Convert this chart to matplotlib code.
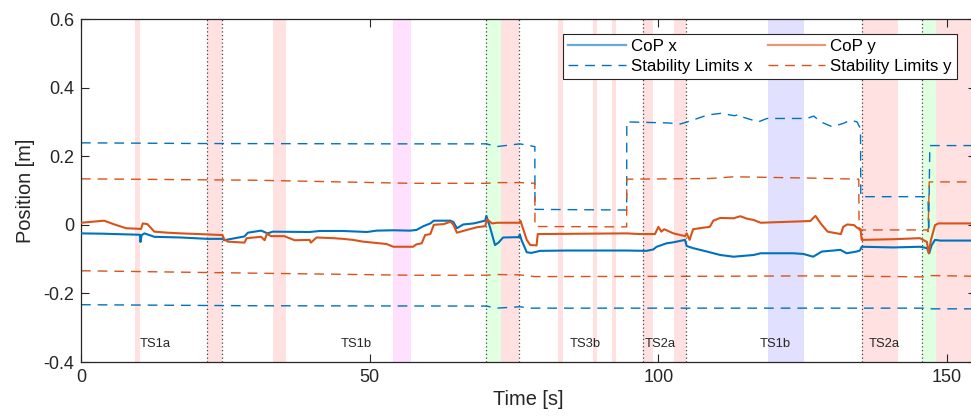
import matplotlib
matplotlib.use("Agg")
import matplotlib.pyplot as plt
from matplotlib.lines import Line2D

plt.rcParams['font.family'] = ['Liberation Sans', 'DejaVu Sans']

# ---------------- data ----------------
cop_x_t = [0, 4.0, 5.8, 10.2, 10.3, 10.5, 11.0, 12.7, 17.3, 21.9, 24.5, 24.8, 25.4, 28.3, 28.9,
           31.2, 32.3, 33.2, 39.6, 41.4, 45.4, 49.5, 51.2, 54.1, 57.0, 58.1, 59.3, 60.5, 61.1,
           64.0, 64.5, 65.1, 66.2, 68.0, 70.0, 70.2, 70.8, 71.7, 72.3, 73.1, 75.8, 76.0, 76.3,
           77.2, 78.0, 79.5, 84.1, 94.5, 97.9, 99.1, 99.7, 101.4, 102.6, 104.6, 104.9, 106.0,
           108.4, 110.7, 113.0, 116.5, 117.7, 123.4, 125.1, 126.8, 128.3, 130.3, 131.5, 132.6,
           134.3, 134.9, 135.2, 140.7, 145.3, 146.5, 146.9, 147.3, 147.9, 148.8, 155]
cop_x_v = [-0.025, -0.026, -0.027, -0.029, -0.050, -0.030, -0.025, -0.035, -0.037, -0.041,
           -0.041, -0.045, -0.043, -0.034, -0.023, -0.017, -0.025, -0.020, -0.021, -0.018,
           -0.018, -0.021, -0.017, -0.016, -0.017, -0.015, -0.004, 0.004, 0.012, 0.012, 0.008,
           -0.010, 0.001, 0.004, 0.012, 0.026, -0.005, -0.059, -0.052, -0.037, -0.036, -0.028,
           -0.045, -0.080, -0.082, -0.076, -0.075, -0.075, -0.076, -0.072, -0.064, -0.054,
           -0.051, -0.044, -0.062, -0.068, -0.078, -0.088, -0.093, -0.088, -0.083, -0.083,
           -0.085, -0.093, -0.078, -0.075, -0.073, -0.083, -0.078, -0.075, -0.064, -0.066,
           -0.064, -0.068, -0.083, -0.060, -0.044, -0.046, -0.046]

cop_y_t = [0, 4.0, 5.8, 7.8, 10.4, 10.7, 11.5, 12.7, 15.0, 17.3, 21.9, 24.5, 24.8, 25.4, 28.3,
           28.7, 31.2, 31.8, 32.2, 32.9, 35.2, 37.0, 39.6, 39.8, 40.8, 43.7, 45.4, 47.1, 48.8,
           52.9, 54.1, 57.5, 58.1, 59.0, 59.6, 60.5, 61.1, 62.8, 64.0, 64.5, 65.1, 66.8, 68.6,
           70.0, 70.3, 71.2, 72.1, 75.9, 76.1, 77.2, 77.8, 78.9, 79.1, 94.5, 96.8, 99.4, 100.0,
           100.5, 101.0, 102.6, 104.6, 104.9, 105.4, 106.0, 107.1, 108.9, 109.5, 110.7, 113.0,
           114.2, 115.3, 116.5, 117.7, 126.3, 127.2, 128.1, 129.3, 131.6, 132.0, 132.7, 133.9,
           134.5, 135.0, 135.2, 140.7, 145.3, 146.5, 146.8, 147.2, 147.9, 148.5, 155]
cop_y_v = [0.006, 0.012, 0.001, -0.010, -0.012, 0.004, 0.002, -0.020, -0.023, -0.025, -0.028,
           -0.030, -0.042, -0.049, -0.052, -0.039, -0.035, -0.045, -0.026, -0.033, -0.033,
           -0.045, -0.044, -0.052, -0.037, -0.039, -0.041, -0.044, -0.049, -0.056, -0.064,
           -0.064, -0.057, -0.054, -0.030, -0.027, 0.000, 0.002, 0.009, 0.000, -0.023, -0.015,
           -0.007, -0.004, 0.016, 0.004, 0.006, 0.006, 0.012, -0.044, -0.059, -0.060, -0.027,
           -0.025, -0.027, -0.027, -0.006, -0.020, -0.013, -0.025, -0.033, -0.025, -0.044,
           -0.013, -0.010, -0.006, 0.012, 0.020, 0.019, 0.025, 0.018, 0.014, 0.006, 0.011,
           0.026, 0.004, -0.020, -0.027, -0.006, 0.001, -0.001, -0.010, -0.012, -0.044, -0.042,
           -0.039, -0.050, -0.083, -0.044, -0.001, 0.004, 0.004]

slx_up_t = [0, 20, 54, 70.2, 72, 76, 78.6, 78.62, 94.5, 94.52, 101.7, 103.8, 105, 108.5, 110.8,
            113.2, 114, 114.6, 117.3, 118.8, 125.7, 126.9, 128.1, 130.1, 131.9, 133.3, 134.4,
            135.0, 135.05, 146.5, 146.7, 146.8, 147.0, 155]
slx_up_v = [0.239, 0.237, 0.236, 0.236, 0.228, 0.236, 0.228, 0.045, 0.043, 0.300, 0.297, 0.294,
            0.300, 0.320, 0.325, 0.318, 0.322, 0.314, 0.300, 0.310, 0.310, 0.317, 0.300, 0.286,
            0.295, 0.305, 0.300, 0.280, 0.082, 0.082, 0.075, -0.020, 0.231, 0.231]

slx_lo_t = [0, 30, 70.2, 72, 76, 78, 100, 146, 147, 155]
slx_lo_v = [-0.233, -0.236, -0.237, -0.243, -0.239, -0.243, -0.243, -0.243, -0.245, -0.245]

sly_up_t = [0, 30, 57, 70.2, 72, 76, 78.6, 78.62, 94.5, 94.52, 109, 113, 127, 134.7, 134.75,
            146.5, 146.7, 146.9, 155]
sly_up_v = [0.134, 0.130, 0.121, 0.121, 0.123, 0.123, 0.121, -0.005, -0.006, 0.133, 0.135,
            0.140, 0.136, 0.133, -0.015, -0.015, -0.020, 0.125, 0.125]

sly_lo_t = [0, 30, 57, 70.2, 72, 76, 78.6, 110, 125, 135, 146.5, 147.2, 155]
sly_lo_v = [-0.134, -0.141, -0.147, -0.147, -0.145, -0.146, -0.151, -0.150, -0.149, -0.150,
            -0.152, -0.148, -0.150]

shade_start = [9.3, 21.9, 33.3, 54.1, 70.2, 72.75, 82.6, 88.6, 92.0, 97.3, 102.7, 118.9, 135.2, 145.6, 148.1]
shade_end = [10.2, 24.4, 35.5, 57.2, 72.75, 75.9, 83.4, 89.3, 92.7, 99.0, 104.7, 125.2, 141.5, 148.1, 155]
shade_kind = ['r', 'r', 'r', 'm', 'g', 'r', 'r', 'r', 'r', 'r', 'r', 'b', 'r', 'g', 'r']

event_lines = [21.8, 24.4, 70.2, 75.9, 97.3, 104.8, 135.2, 145.6]

phase_labels = ['TS1a', 'TS1b', 'TS3b', 'TS2a', 'TS1b', 'TS2a']
phase_pos = [10.1, 44.9, 84.7, 97.6, 117.5, 136.5]

x_ticks = [0, 50, 100, 150]
y_ticks = [-0.4, -0.2, 0, 0.2, 0.4, 0.6]
y_tick_labels = ['-0.4', '-0.2', '0', '0.2', '0.4', '0.6']

legend_labels = ['CoP x', 'Stability Limits x', 'CoP y', 'Stability Limits y']

# ---------------- style ----------------
BLUE = '#0072BD'
ORANGE = '#D95319'
shade_colors = {'r': '#FFE1E1', 'g': '#E1FFE1', 'm': '#FFE1FF', 'b': '#E1E1FF'}

W, H = 971, 419
fig = plt.figure(figsize=(W / 100, H / 100), dpi=100)
ax = fig.add_axes([81 / W, (H - 362) / H, (976 - 81) / W, 343 / H])

for s, e, k in zip(shade_start, shade_end, shade_kind):
    ax.axvspan(s, e, color=shade_colors[k], lw=0, zorder=0)
for x in event_lines:
    ax.axvline(x, color='#444444', lw=0.9, ls=(0, (1, 2)), zorder=1)

ax.plot(cop_x_t, cop_x_v, color=BLUE, lw=1.5, zorder=3)
ax.plot(cop_y_t, cop_y_v, color=ORANGE, lw=1.5, zorder=3)
dash = (0, (7, 5))
ax.plot(slx_up_t, slx_up_v, color=BLUE, lw=1.0, ls=dash, zorder=2)
ax.plot(slx_lo_t, slx_lo_v, color=BLUE, lw=1.0, ls=dash, zorder=2)
ax.plot(sly_up_t, sly_up_v, color=ORANGE, lw=1.0, ls=dash, zorder=2)
ax.plot(sly_lo_t, sly_lo_v, color=ORANGE, lw=1.0, ls=dash, zorder=2)

for lab, p in zip(phase_labels, phase_pos):
    ax.text(p, -0.347, lab, fontsize=9.4, ha='left', va='center', color='#262626', zorder=4)

ax.set_xlim(0, 155)
ax.set_ylim(-0.4, 0.6)
ax.set_xticks(x_ticks)
ax.set_yticks(y_ticks)
ax.set_yticklabels(y_tick_labels)
ax.tick_params(direction='in', length=6, width=0.8, top=True, right=True,
               labelsize=13, colors='#262626', pad=5)
for sp in ax.spines.values():
    sp.set_linewidth(0.9)
    sp.set_color('#262626')
ax.set_xlabel('Time [s]', fontsize=14.4, color='#262626', labelpad=3)
ax.set_ylabel('Position [m]', fontsize=14.4, color='#262626', labelpad=6)

handles = [Line2D([], [], color=BLUE, lw=1.6, alpha=0.6),
           Line2D([], [], color=BLUE, lw=1.0, ls=dash),
           Line2D([], [], color=ORANGE, lw=1.6, alpha=0.6),
           Line2D([], [], color=ORANGE, lw=1.0, ls=dash)]
leg = fig.legend(handles, legend_labels, ncol=2, loc='upper right',
                 bbox_to_anchor=(957 / W, (H - 34) / H), bbox_transform=fig.transFigure,
                 fontsize=12.2, frameon=True, fancybox=False, framealpha=1,
                 edgecolor='#262626', handlelength=3.4, handletextpad=0.3,
                 columnspacing=0.9, labelspacing=0.3, borderpad=0.3, borderaxespad=0)
leg.get_frame().set_linewidth(0.8)
leg.set_zorder(10)

fig.savefig('out.png', dpi=100)
